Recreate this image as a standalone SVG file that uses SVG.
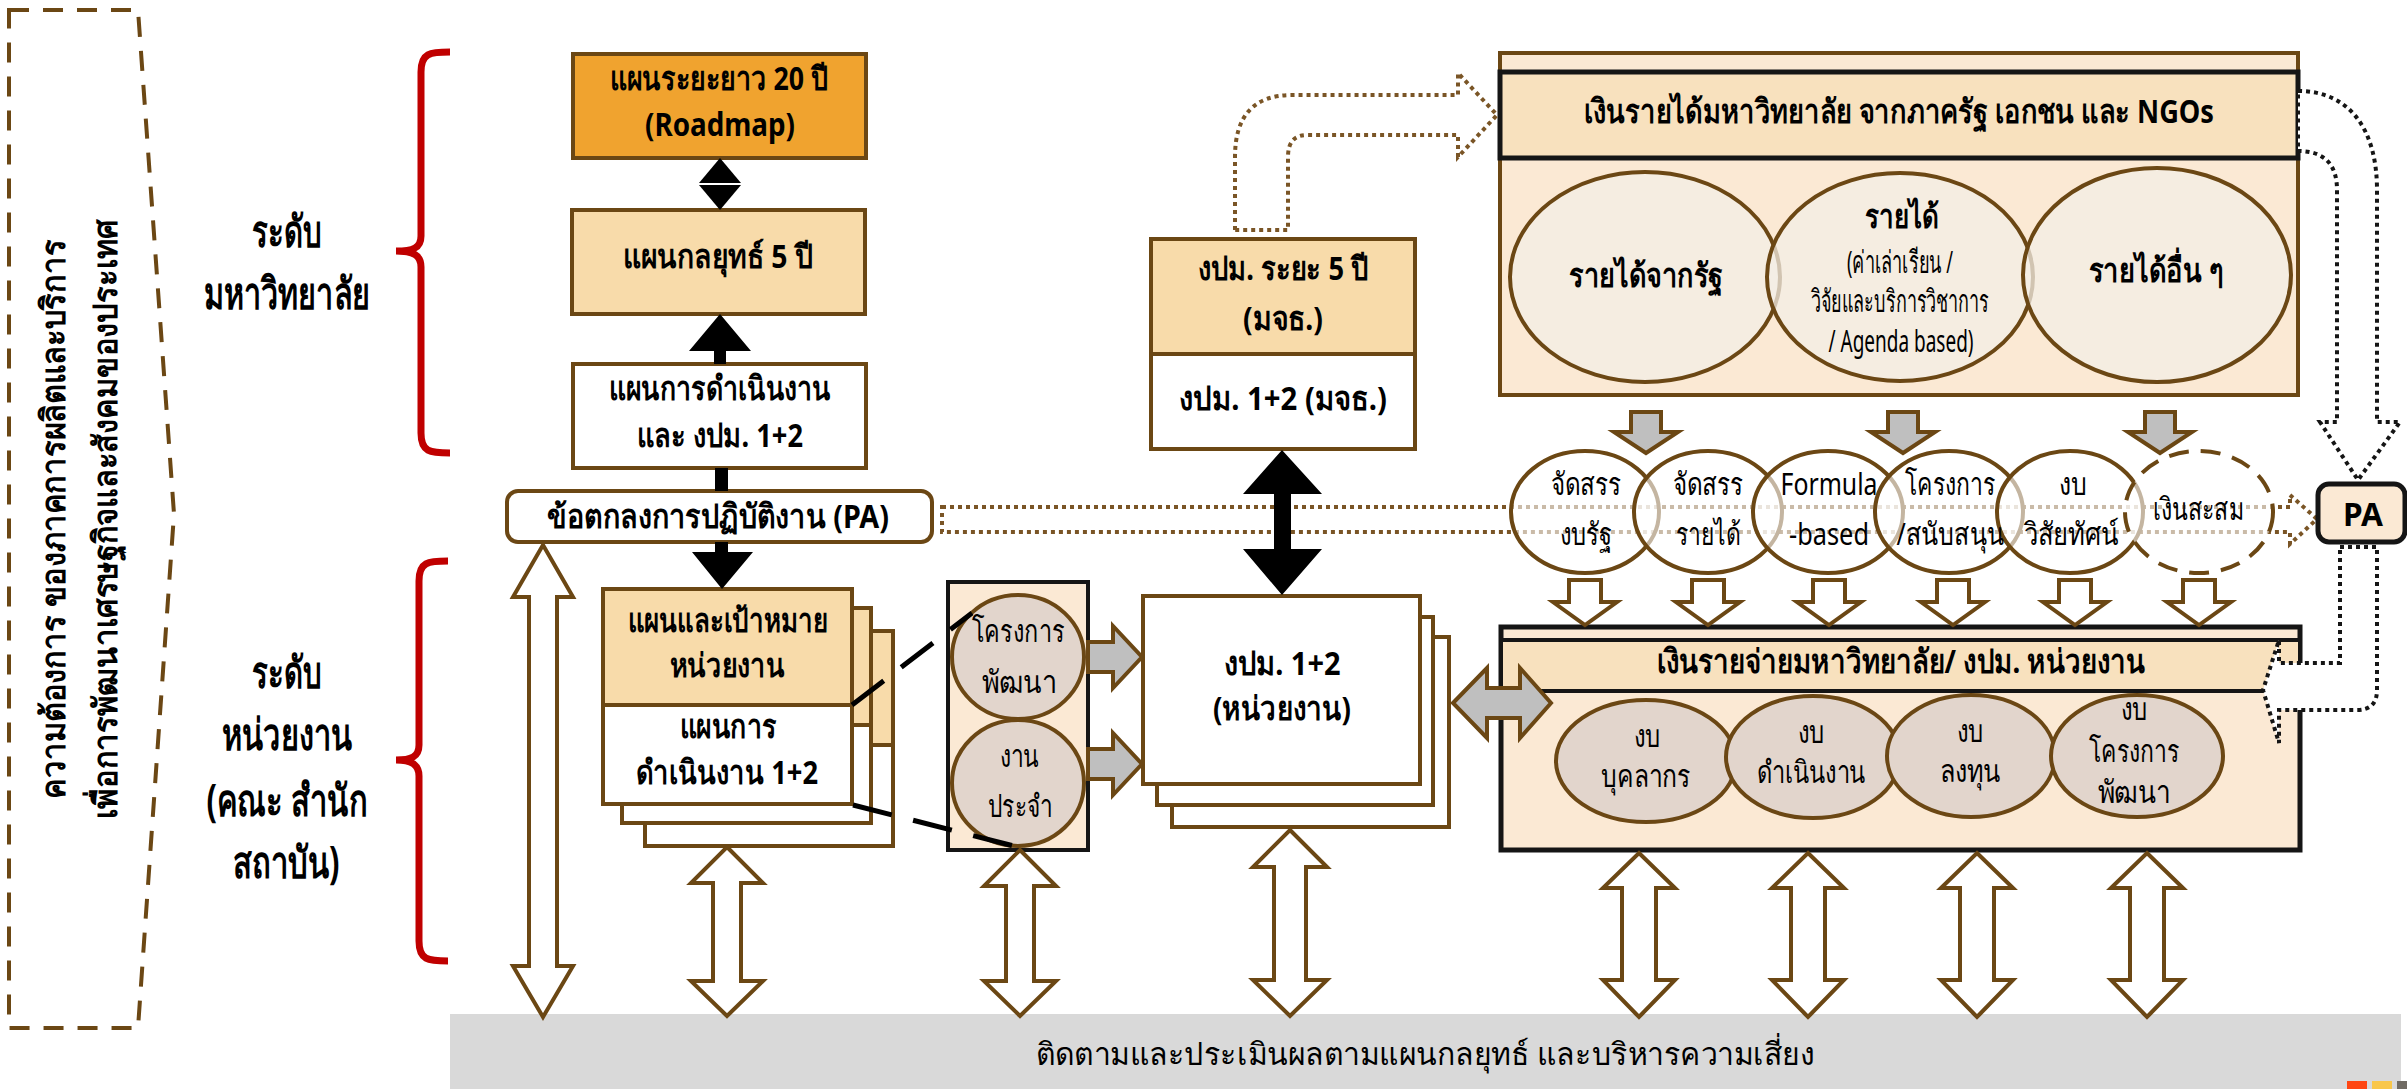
<svg xmlns="http://www.w3.org/2000/svg" width="2407" height="1089" viewBox="0 0 2407 1089">
<style>
text{font-family:"Noto Sans","DejaVu Sans",sans-serif;text-anchor:middle;fill:#000}
.b{font-weight:bold;font-size:33px}
.r{font-weight:normal;font-size:31px}
.lbl{font-weight:bold;font-size:44px}
.br{stroke:#6B4714;stroke-width:4}
.bk{stroke:#151515;stroke-width:5}
.peach{fill:#F8DBAA}
.lt{fill:#FBE9D4}
.band{fill:#F8E1BE}
.wh{fill:#fff}
.gc{fill:#E2D5CC;stroke:#6B4714;stroke-width:4}
.rc{fill:#fff;fill-opacity:0.6;stroke:#6B4714;stroke-width:4}
.ec{fill:#F3EEE6;fill-opacity:0.75;stroke:#6B4714;stroke-width:4}
.dotbr{fill:none;stroke:#7A5526;stroke-width:4;stroke-dasharray:4 4}
.dotbk{fill:#fff;stroke:#151515;stroke-width:4;stroke-dasharray:4 4}
.warr{fill:#fff;stroke:#6B4714;stroke-width:4;stroke-linejoin:miter}
.garr{fill:#BFBFBF;stroke:#6B4714;stroke-width:4}
.brace{fill:none;stroke:#C00000;stroke-width:7}
</style>

<g id="monitor-bar">
<rect x="450" y="1014" width="1951" height="75" fill="#D9D9D9"/>
<text class="r" x="1425" y="1065" font-size="38" textLength="779" lengthAdjust="spacingAndGlyphs">ติดตามและประเมินผลตามแผนกลยุทธ์ และบริหารความเสี่ยง</text>
<rect x="2347" y="1081" width="20" height="8" fill="#FF4612"/>
<rect x="2372" y="1081" width="20" height="8" fill="#F9C74B"/>
<rect x="2397" y="1081" width="10" height="8" fill="#706B63"/>
</g>

<g id="needs">
<path d="M9,10 L138,10 L174,514 L138,1028 L9,1028 Z" fill="none" stroke="#6B4714" stroke-width="4" stroke-dasharray="20 14"/>
<text class="b" font-size="40" transform="translate(65,519) rotate(-90)" textLength="559" lengthAdjust="spacingAndGlyphs">ความต้องการ ของภาคการผลิตและบริการ</text>
<text class="b" font-size="40" transform="translate(117,519) rotate(-90)" textLength="600" lengthAdjust="spacingAndGlyphs">เพื่อการพัฒนาเศรษฐกิจและสังคมของประเทศ</text>
</g>

<g id="level-university">
<path class="brace" d="M450,52 C430,52 421,53 421,72 L421,236 C421,248 413,251 396,251 C413,251 421,255 421,267 L421,433 C421,452 430,453 450,453"/>
<text class="lbl" x="287" y="247" textLength="70" lengthAdjust="spacingAndGlyphs">ระดับ</text>
<text class="lbl" x="287" y="309" textLength="167" lengthAdjust="spacingAndGlyphs">มหาวิทยาลัย</text>
</g>

<g id="level-unit">
<path class="brace" d="M448,561 C428,561 419,562 419,581 L419,745 C419,757 411,760 396,760 C411,760 419,764 419,776 L419,941 C419,960 428,961 448,961"/>
<text class="lbl" x="287" y="688" textLength="70" lengthAdjust="spacingAndGlyphs">ระดับ</text>
<text class="lbl" x="287" y="750" textLength="130" lengthAdjust="spacingAndGlyphs">หน่วยงาน</text>
<text class="lbl" x="287" y="816" textLength="161" lengthAdjust="spacingAndGlyphs">(คณะ สำนัก</text>
<text class="lbl" x="286" y="878" textLength="107" lengthAdjust="spacingAndGlyphs">สถาบัน)</text>
</g>

<g id="roadmap">
<rect x="573" y="54" width="293" height="104" fill="#F0A32F" class="br"/>
<text class="b" x="719" y="90" textLength="218" lengthAdjust="spacingAndGlyphs">แผนระยะยาว 20 ปี</text>
<text class="b" x="720" y="136" textLength="150" lengthAdjust="spacingAndGlyphs">(Roadmap)</text>
</g>

<g id="strategic-plan">
<rect x="572" y="210" width="293" height="104" class="peach br"/>
<text class="b" x="718" y="268" font-size="36" textLength="190" lengthAdjust="spacingAndGlyphs">แผนกลยุทธ์ 5 ปี</text>
</g>

<g id="action-plan">
<rect x="573" y="364" width="293" height="104" class="wh br"/>
<text class="b" x="720" y="400" textLength="222" lengthAdjust="spacingAndGlyphs">แผนการดำเนินงาน</text>
<text class="b" x="720" y="447" textLength="166" lengthAdjust="spacingAndGlyphs">และ งปม. 1+2</text>
</g>

<g id="pa-agreement">
<rect x="507" y="491" width="425" height="51" rx="11" class="wh br"/>
<text class="b" x="718" y="528" font-size="34" textLength="342" lengthAdjust="spacingAndGlyphs">ข้อตกลงการปฏิบัติงาน (PA)</text>
</g>

<g id="unit-plan">
<rect x="645" y="631" width="248" height="215" class="wh br"/>
<rect x="645" y="631" width="248" height="114" class="peach br"/>
<rect x="622" y="608" width="249" height="215" class="wh br"/>
<rect x="622" y="608" width="249" height="117" class="peach br"/>
<rect x="603" y="589" width="249" height="215" class="wh br"/>
<rect x="603" y="589" width="249" height="116" class="peach br"/>
<text class="b" x="728" y="632" textLength="200" lengthAdjust="spacingAndGlyphs">แผนและเป้าหมาย</text>
<text class="b" x="727" y="677" textLength="115" lengthAdjust="spacingAndGlyphs">หน่วยงาน</text>
<text class="b" x="728" y="738" textLength="97" lengthAdjust="spacingAndGlyphs">แผนการ</text>
<text class="b" x="727" y="784" textLength="182" lengthAdjust="spacingAndGlyphs">ดำเนินงาน 1+2</text>
</g>

<g id="project-types">
<rect x="948" y="582" width="140" height="268" class="lt" stroke="#151515" stroke-width="4"/>
<ellipse class="gc" cx="1018" cy="657" rx="66" ry="62"/>
<ellipse class="gc" cx="1018" cy="783" rx="66" ry="63"/>
<text class="r" x="1018" y="642" textLength="93" lengthAdjust="spacingAndGlyphs">โครงการ</text>
<text class="r" x="1019" y="693" textLength="75" lengthAdjust="spacingAndGlyphs">พัฒนา</text>
<text class="r" x="1019" y="767" textLength="39" lengthAdjust="spacingAndGlyphs">งาน</text>
<text class="r" x="1020" y="817" textLength="65" lengthAdjust="spacingAndGlyphs">ประจำ</text>
</g>

<g id="budget-5yr">
<rect x="1151" y="239" width="264" height="115" class="peach br"/>
<rect x="1151" y="354" width="264" height="95" class="wh br"/>
<text class="b" x="1283" y="280" textLength="171" lengthAdjust="spacingAndGlyphs">งปม. ระยะ 5 ปี</text>
<text class="b" x="1283" y="330" textLength="80" lengthAdjust="spacingAndGlyphs">(มจธ.)</text>
<text class="b" x="1283" y="410" textLength="208" lengthAdjust="spacingAndGlyphs">งปม. 1+2 (มจธ.)</text>
</g>

<g id="unit-budget">
<rect x="1172" y="637" width="277" height="190" class="wh br"/>
<rect x="1157" y="617" width="276" height="188" class="wh br"/>
<rect x="1143" y="596" width="277" height="188" class="wh br"/>
<text class="b" x="1282" y="675" textLength="117" lengthAdjust="spacingAndGlyphs">งปม. 1+2</text>
<text class="b" x="1282" y="720" textLength="138" lengthAdjust="spacingAndGlyphs">(หน่วยงาน)</text>
</g>

<g id="revenue">
<rect x="1500" y="53" width="798" height="342" class="lt br"/>
<rect x="1500" y="72" width="798" height="86" class="band bk"/>
<text class="b" x="1899" y="123" textLength="630" lengthAdjust="spacingAndGlyphs">เงินรายได้มหาวิทยาลัย จากภาครัฐ เอกชน และ NGOs</text>
<ellipse class="ec" cx="1645" cy="277" rx="135" ry="105"/>
<ellipse class="ec" cx="1900" cy="277" rx="133" ry="104"/>
<ellipse class="ec" cx="2157" cy="275" rx="134" ry="107"/>
<text class="b" x="1646" y="287" font-size="37" textLength="154" lengthAdjust="spacingAndGlyphs">รายได้จากรัฐ</text>
<text class="b" x="1902" y="228" font-size="32" textLength="74" lengthAdjust="spacingAndGlyphs">รายได้</text>
<text class="r" x="1900" y="273" font-size="20" textLength="106" lengthAdjust="spacingAndGlyphs">(ค่าเล่าเรียน /</text>
<text class="r" x="1900" y="312" font-size="20" textLength="178" lengthAdjust="spacingAndGlyphs">วิจัยและบริการวิชาการ</text>
<text class="r" x="1901" y="352" font-size="20" textLength="145" lengthAdjust="spacingAndGlyphs">/ Agenda based)</text>
<text class="b" x="2156" y="282" font-size="37" textLength="135" lengthAdjust="spacingAndGlyphs">รายได้อื่น ๆ</text>
</g>

<g id="expense">
<rect x="1501" y="627" width="799" height="223" class="lt bk"/>
<rect x="1501" y="640" width="799" height="51" class="band" stroke="#151515" stroke-width="4"/>
<text class="b" x="1901" y="673" textLength="489" lengthAdjust="spacingAndGlyphs">เงินรายจ่ายมหาวิทยาลัย/ งปม. หน่วยงาน</text>
<ellipse class="gc" cx="1646" cy="761" rx="90" ry="61"/>
<ellipse class="gc" cx="1813" cy="757" rx="87" ry="61"/>
<ellipse class="gc" cx="1971" cy="756" rx="84" ry="61"/>
<ellipse class="gc" cx="2137" cy="756" rx="86" ry="61"/>
<text class="r" x="1647" y="747" font-size="29" textLength="27" lengthAdjust="spacingAndGlyphs">งบ</text>
<text class="r" x="1646" y="787" font-size="29" textLength="90" lengthAdjust="spacingAndGlyphs">บุคลากร</text>
<text class="r" x="1811" y="743" font-size="29" textLength="27" lengthAdjust="spacingAndGlyphs">งบ</text>
<text class="r" x="1811" y="783" font-size="29" textLength="109" lengthAdjust="spacingAndGlyphs">ดำเนินงาน</text>
<text class="r" x="1970" y="742" font-size="29" textLength="27" lengthAdjust="spacingAndGlyphs">งบ</text>
<text class="r" x="1970" y="782" font-size="29" textLength="61" lengthAdjust="spacingAndGlyphs">ลงทุน</text>
<text class="r" x="2134" y="720" font-size="29" textLength="27" lengthAdjust="spacingAndGlyphs">งบ</text>
<text class="r" x="2134" y="762" font-size="29" textLength="91" lengthAdjust="spacingAndGlyphs">โครงการ</text>
<text class="r" x="2134" y="803" font-size="29" textLength="73" lengthAdjust="spacingAndGlyphs">พัฒนา</text>
</g>

<g id="connectors">
<path d="M720,158 L741,183 L699,183 Z" fill="#000"/>
<path d="M699,185 L741,185 L720,210 Z" fill="#000"/>
<path d="M720,314 L751,351 L726,351 L726,364 L714,364 L714,351 L689,351 Z" fill="#000"/>
<rect x="715" y="468" width="13" height="23" fill="#000"/>
<path d="M715,542 L728,542 L728,552 L753,552 L722,589 L692,552 L715,552 Z" fill="#000"/>
<path class="dotbr" d="M942,507 L2290,507 L2290,495 L2317,519 L2290,544 L2290,532 L942,532 Z"/>
<path class="dotbr" d="M1235,230 L1235,157 Q1235,95 1292,95 L1458,95 L1458,73 L1497,115 L1458,157 L1458,135 L1307,135 Q1288,135 1288,157 L1288,230 Z"/>
<path d="M1282,450 L1322,494 L1291,494 L1291,549 L1322,549 L1282,595 L1243,549 L1274,549 L1274,494 L1243,494 Z" fill="#000"/>
<line x1="852" y1="705" x2="972" y2="613" stroke="#000" stroke-width="5" stroke-dasharray="40 22"/>
<line x1="853" y1="805" x2="1018" y2="847" stroke="#000" stroke-width="5" stroke-dasharray="40 22"/>
<path class="garr" d="M1088,642 L1113,642 L1113,626 L1142,657 L1113,688 L1113,672 L1088,672 Z"/>
<path class="garr" d="M1088,749 L1113,749 L1113,733 L1142,764 L1113,795 L1113,779 L1088,779 Z"/>
<path class="garr" d="M1453,703 L1487,668 L1487,688 L1520,688 L1520,668 L1551,703 L1520,738 L1520,718 L1487,718 L1487,738 Z"/>
<path class="garr" d="M1631,412 L1661,412 L1661,432 L1678,432 L1646,453 L1614,432 L1631,432 Z"/>
<path class="garr" d="M1888,412 L1918,412 L1918,432 L1935,432 L1903,453 L1871,432 L1888,432 Z"/>
<path class="garr" d="M2145,412 L2175,412 L2175,432 L2192,432 L2160,453 L2128,432 L2145,432 Z"/>
<path class="warr" d="M1569,580 L1601,580 L1601,602 L1617,602 L1585,625 L1553,602 L1569,602 Z"/>
<path class="warr" d="M1692,580 L1724,580 L1724,602 L1740,602 L1708,625 L1676,602 L1692,602 Z"/>
<path class="warr" d="M1813,580 L1845,580 L1845,602 L1861,602 L1829,625 L1797,602 L1813,602 Z"/>
<path class="warr" d="M1937,580 L1969,580 L1969,602 L1985,602 L1953,625 L1921,602 L1937,602 Z"/>
<path class="warr" d="M2059,580 L2091,580 L2091,602 L2107,602 L2075,625 L2043,602 L2059,602 Z"/>
<path class="warr" d="M2183,580 L2215,580 L2215,602 L2231,602 L2199,625 L2167,602 L2183,602 Z"/>
<path class="dotbk" d="M2298,91 C2350,91 2377,130 2377,190 L2377,422 L2400,422 L2358,480 L2320,422 L2337,422 L2337,190 Q2337,151 2298,151 Z"/>
<path class="dotbk" d="M2340,547 L2377,547 L2377,690 Q2377,710 2357,710 L2279,710 L2279,743 L2263,690 L2279,640 L2279,663 L2340,663 Z"/>
<path class="warr" d="M543,545 L573,597 L557,597 L557,966 L573,966 L543,1017 L513,966 L529,966 L529,597 L513,597 Z"/>
<path class="warr" d="M727,847 L763,883 L741,883 L741,981 L763,981 L727,1016 L691,981 L713,981 L713,883 L691,883 Z"/>
<path class="warr" d="M1020,850 L1056,886 L1034,886 L1034,981 L1056,981 L1020,1016 L984,981 L1006,981 L1006,886 L984,886 Z"/>
<path class="warr" d="M1290,830 L1327,867 L1306,867 L1306,980 L1327,980 L1290,1016 L1253,980 L1274,980 L1274,867 L1253,867 Z"/>
<path class="warr" d="M1639,853 L1675,888 L1656,888 L1656,980 L1675,980 L1639,1017 L1603,980 L1622,980 L1622,888 L1603,888 Z"/>
<path class="warr" d="M1808,853 L1844,888 L1825,888 L1825,980 L1844,980 L1808,1017 L1772,980 L1791,980 L1791,888 L1772,888 Z"/>
<path class="warr" d="M1977,853 L2013,888 L1994,888 L1994,980 L2013,980 L1977,1017 L1941,980 L1960,980 L1960,888 L1941,888 Z"/>
<path class="warr" d="M2147,853 L2183,888 L2164,888 L2164,980 L2183,980 L2147,1017 L2111,980 L2130,980 L2130,888 L2111,888 Z"/>
</g>

<g id="allocations">
<ellipse class="rc" cx="1585" cy="512" rx="74" ry="61"/>
<ellipse class="rc" cx="1708" cy="512" rx="74" ry="61"/>
<ellipse class="rc" cx="1828" cy="512" rx="75" ry="61"/>
<ellipse class="rc" cx="1949" cy="512" rx="74" ry="61"/>
<ellipse class="rc" cx="2070" cy="512" rx="73" ry="61"/>
<ellipse class="rc" cx="2199" cy="512" rx="74" ry="61" stroke-dasharray="20 12"/>
<text class="r" x="1586" y="495" textLength="71" lengthAdjust="spacingAndGlyphs">จัดสรร</text>
<text class="r" x="1586" y="545" textLength="53" lengthAdjust="spacingAndGlyphs">งบรัฐ</text>
<text class="r" x="1708" y="495" textLength="71" lengthAdjust="spacingAndGlyphs">จัดสรร</text>
<text class="r" x="1708" y="545" textLength="65" lengthAdjust="spacingAndGlyphs">รายได้</text>
<text class="r" x="1829" y="495" textLength="97" lengthAdjust="spacingAndGlyphs">Formula</text>
<text class="r" x="1829" y="545" textLength="80" lengthAdjust="spacingAndGlyphs">-based</text>
<text class="r" x="1950" y="495" textLength="91" lengthAdjust="spacingAndGlyphs">โครงการ</text>
<text class="r" x="1950" y="545" textLength="107" lengthAdjust="spacingAndGlyphs">/สนับสนุน</text>
<text class="r" x="2073" y="495" textLength="28" lengthAdjust="spacingAndGlyphs">งบ</text>
<text class="r" x="2071" y="545" textLength="95" lengthAdjust="spacingAndGlyphs">วิสัยทัศน์</text>
<text class="r" x="2198" y="520" textLength="91" lengthAdjust="spacingAndGlyphs">เงินสะสม</text>
</g>

<g id="pa-right">
<rect x="2318" y="484" width="87" height="58" rx="11" class="lt" stroke="#151515" stroke-width="5"/>
<text class="b" x="2363" y="526" font-size="38" textLength="40" lengthAdjust="spacingAndGlyphs">PA</text>
</g>
</svg>
